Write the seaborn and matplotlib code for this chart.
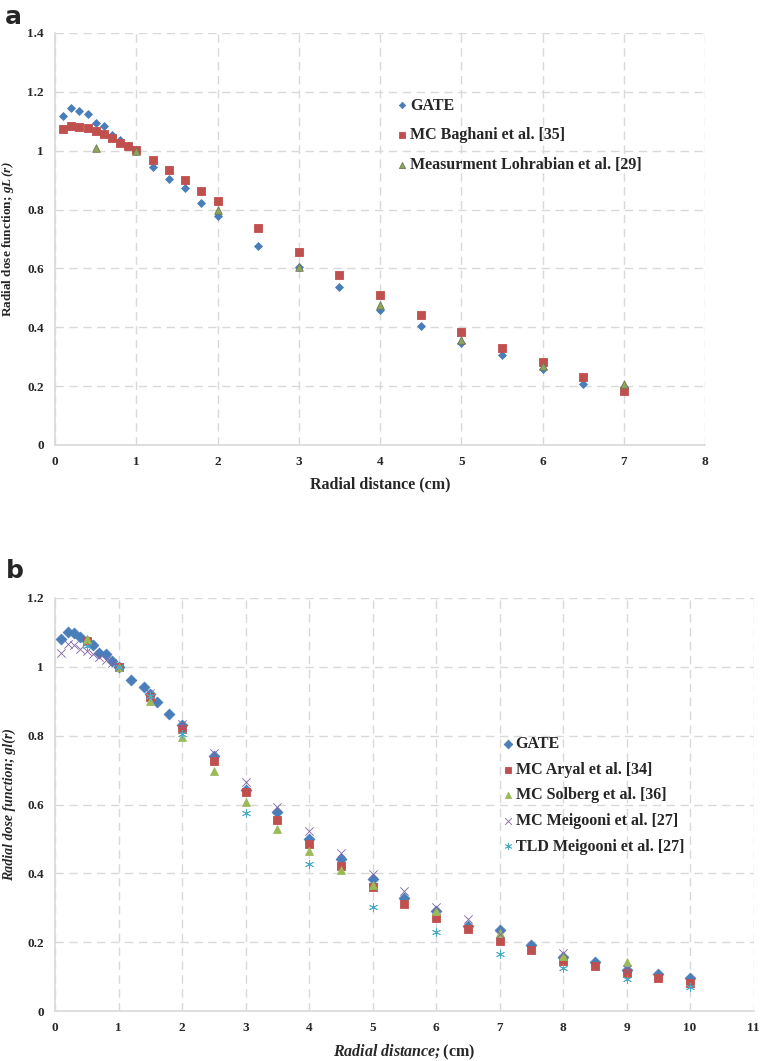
import numpy as np
import pandas as pd
import matplotlib
matplotlib.use("Agg")
import matplotlib.pyplot as plt
import seaborn as sns

# ---- panel a data ----
a_gate_x = [0.1, 0.2, 0.3, 0.4, 0.5, 0.6, 0.7, 0.8, 0.9, 1.0, 1.2, 1.4, 1.6, 1.8, 2.0,
            2.5, 3.0, 3.5, 4.0, 4.5, 5.0, 5.5, 6.0, 6.5, 7.0]
a_gate_y = [1.116, 1.146, 1.134, 1.123, 1.093, 1.082, 1.054, 1.035, 1.015, 1.0, 0.946,
            0.904, 0.874, 0.822, 0.779, 0.677, 0.605, 0.537, 0.458, 0.405, 0.345, 0.307,
            0.259, 0.207, 0.197]
a_bag_x = [0.1, 0.2, 0.3, 0.4, 0.5, 0.6, 0.7, 0.8, 0.9, 1.0, 1.2, 1.4, 1.6, 1.8, 2.0,
           2.5, 3.0, 3.5, 4.0, 4.5, 5.0, 5.5, 6.0, 6.5, 7.0]
a_bag_y = [1.073, 1.084, 1.080, 1.076, 1.066, 1.055, 1.042, 1.027, 1.016, 1.002, 0.967,
           0.933, 0.899, 0.864, 0.828, 0.737, 0.655, 0.576, 0.508, 0.441, 0.385, 0.329,
           0.283, 0.231, 0.182]
a_lohr_x = [0.5, 1.0, 2.0, 3.0, 4.0, 5.0, 6.0, 7.0]
a_lohr_y = [1.009, 0.998, 0.798, 0.605, 0.476, 0.355, 0.268, 0.206]

# ---- panel b data ----
b_gate_x = [0.1, 0.2, 0.3, 0.4, 0.5, 0.6, 0.7, 0.8, 0.9, 1.0, 1.2, 1.4, 1.5, 1.6, 1.8,
            2.0, 2.5, 3.0, 3.5, 4.0, 4.5, 5.0, 5.5, 6.0, 6.5, 7.0, 7.5, 8.0, 8.5, 9.0,
            9.5, 10.0]
b_gate_y = [1.081, 1.101, 1.097, 1.087, 1.075, 1.064, 1.040, 1.036, 1.016, 1.0, 0.962,
            0.942, 0.920, 0.897, 0.863, 0.832, 0.741, 0.642, 0.578, 0.500, 0.442, 0.385,
            0.329, 0.290, 0.248, 0.234, 0.192, 0.157, 0.142, 0.120, 0.108, 0.096]
b_aryal_x = [0.5, 1.0, 1.5, 2.0, 2.5, 3.0, 3.5, 4.0, 4.5, 5.0, 5.5, 6.0, 6.5, 7.0, 7.5,
             8.0, 8.5, 9.0, 9.5, 10.0]
b_aryal_y = [1.074, 1.0, 0.913, 0.819, 0.725, 0.636, 0.555, 0.485, 0.420, 0.361, 0.312,
             0.270, 0.237, 0.202, 0.176, 0.144, 0.131, 0.111, 0.096, 0.082]
b_solb_x = [0.5, 1.0, 1.5, 2.0, 2.5, 3.0, 3.5, 4.0, 4.5, 5.0, 6.0, 7.0, 8.0, 9.0]
b_solb_y = [1.081, 1.0, 0.900, 0.795, 0.698, 0.608, 0.530, 0.465, 0.410, 0.366, 0.290,
            0.228, 0.161, 0.142]
b_meig_x = [0.1, 0.2, 0.3, 0.4, 0.5, 0.6, 0.7, 0.8, 0.9, 1.0, 1.5, 2.0, 2.5, 3.0, 3.5,
            4.0, 4.5, 5.0, 5.5, 6.0, 6.5, 7.0, 8.0, 9.0]
b_meig_y = [1.039, 1.065, 1.063, 1.053, 1.047, 1.038, 1.029, 1.021, 1.012, 1.0, 0.925,
            0.835, 0.751, 0.666, 0.593, 0.522, 0.460, 0.397, 0.349, 0.302, 0.268, 0.224,
            0.168, 0.123]
b_tld_x = [0.5, 1.0, 1.5, 2.0, 3.0, 4.0, 5.0, 6.0, 7.0, 8.0, 9.0, 10.0]
b_tld_y = [1.060, 1.0, 0.915, 0.804, 0.574, 0.427, 0.302, 0.230, 0.166, 0.126, 0.092, 0.070]

BLUE = "#4a7ebb"
RED = "#c0504d"
GREEN = "#9bbb59"
PURPLE = "#8064a2"
CYAN = "#4bacc6"
GRIDC = "#d9d9d9"

sns.set_style("white")
plt.rcParams['font.family'] = ['Liberation Serif', 'DejaVu Serif']
plt.rcParams['mathtext.fontset'] = 'custom'
plt.rcParams['mathtext.rm'] = 'Liberation Serif:bold'
plt.rcParams['mathtext.it'] = 'Liberation Serif:italic:bold'
plt.rcParams['mathtext.bf'] = 'Liberation Serif:bold'
plt.rcParams['mathtext.bfit'] = 'Liberation Serif:italic:bold'

fig = plt.figure(figsize=(7.62, 10.61), dpi=100)
ax_a = fig.add_axes([0.0722, 0.5806, 0.853, 0.3884])
ax_b = fig.add_axes([0.0722, 0.0471, 0.9168, 0.3893])


def style_axes(ax, xmax, ymax, ystep):
    ax.set_xlim(0, xmax)
    ax.set_ylim(0, ymax)
    ax.set_xticks(np.arange(0, xmax + 0.01, 1))
    yt = np.round(np.arange(0, ymax + 0.001, ystep), 1)
    ax.set_yticks(yt)
    ax.set_yticklabels(["0" if v == 0 else ("1" if v == 1 else f"{v:g}") for v in yt])
    ax.grid(True, color=GRIDC, linestyle=(0, (6, 4)), linewidth=1.0)
    ax.set_axisbelow(True)
    for s in ["top", "right"]:
        ax.spines[s].set_visible(False)
    for s in ["left", "bottom"]:
        ax.spines[s].set_color(GRIDC)
        ax.spines[s].set_linewidth(1.2)
    ax.tick_params(length=0, labelsize=9.5, pad=8)
    for lab in ax.get_xticklabels() + ax.get_yticklabels():
        lab.set_fontweight("bold")


def pts(ax, x, y, label, marker, size, color, ec=None):
    df = pd.DataFrame({"x": x, "y": y})
    sns.scatterplot(data=df, x="x", y="y", ax=ax, marker=marker, s=size,
                    color=color, edgecolor=ec if ec else color, linewidth=0.6,
                    label=label, zorder=3)


# ---- panel a ----
pts(ax_a, a_gate_x, a_gate_y, "GATE", "D", 16, BLUE)
pts(ax_a, a_bag_x, a_bag_y, "MC Baghani et al. [35]", "s", 28, RED)
pts(ax_a, a_lohr_x, a_lohr_y, "Measurment Lohrabian et al. [29]", "^", 30, "#8ea55a", "#6b7a55")
style_axes(ax_a, 8, 1.4, 0.2)
ax_a.set_xlabel("Radial distance (cm)", fontsize=11.5, fontweight="bold", labelpad=6)
ax_a.set_ylabel(r"Radial dose function; $\mathbfit{gL\,(r)}$", fontsize=9.5,
                fontweight="bold", labelpad=8)
ax_a.legend(loc="upper left", bbox_to_anchor=(0.502, 0.878), frameon=False,
            prop={"family": "Liberation Serif", "weight": "bold", "size": 11.5},
            handletextpad=0.1, handlelength=0.8, labelspacing=0.85, markerscale=0.8)

# ---- panel b ----
pts(ax_b, b_gate_x, b_gate_y, "GATE", "D", 30, BLUE)
pts(ax_b, b_aryal_x, b_aryal_y, "MC Aryal et al. [34]", "s", 26, RED)
pts(ax_b, b_solb_x, b_solb_y, "MC Solberg et al. [36]", "^", 32, GREEN)
pts(ax_b, b_meig_x, b_meig_y, "MC Meigooni et al. [27]", "x", 36, PURPLE)
pts(ax_b, b_tld_x, b_tld_y, "TLD Meigooni et al. [27]", (6, 2, 0), 36, CYAN)
style_axes(ax_b, 11, 1.2, 0.2)
ax_b.set_xlabel(r"$\mathbfit{Radial\ distance;}$(cm)", fontsize=11.5,
                fontweight="bold", labelpad=6)
ax_b.set_ylabel("Radial dose function; gl(r)", fontsize=10, fontweight="bold",
                fontstyle="italic", labelpad=8)
ax_b.legend(loc="upper left", bbox_to_anchor=(0.618, 0.70), frameon=False,
            prop={"family": "Liberation Serif", "weight": "bold", "size": 11.5},
            handletextpad=0.1, handlelength=0.8, labelspacing=0.6, markerscale=0.8)

# panel letters
fig.text(0.007, 0.977, "a", fontsize=18, fontweight="bold", family="DejaVu Sans",
         va="baseline")
fig.text(0.008, 0.4555, "b", fontsize=18, fontweight="bold", family="DejaVu Sans",
         va="baseline")

fig.savefig("out.png", dpi=100)
